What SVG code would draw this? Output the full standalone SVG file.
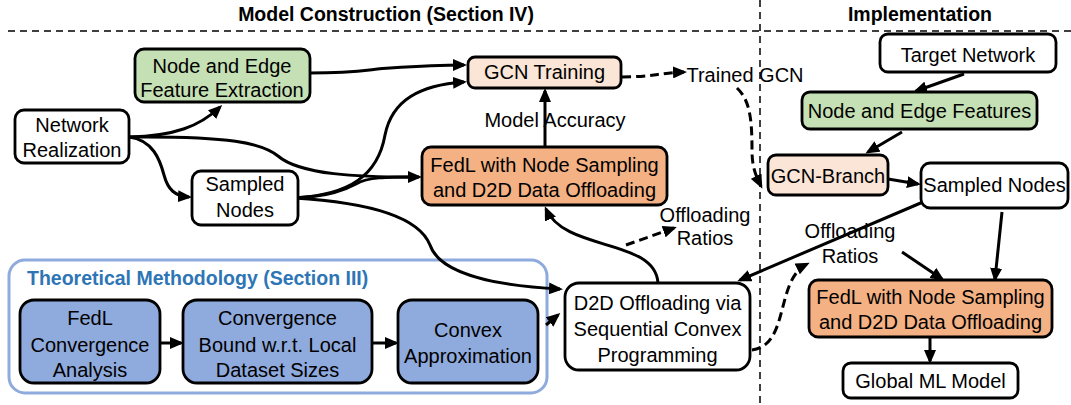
<svg xmlns="http://www.w3.org/2000/svg" width="1071" height="405" viewBox="0 0 1071 405">
  <style>
    text { font-family: "Liberation Sans", Arial, sans-serif; font-size: 20px; fill: #000; }
    .c { text-anchor: middle; }
    .hdr { font-weight: bold; font-size: 19.5px; }
    .theo { font-weight: bold; font-size: 19.5px; fill: #2e75b6; }
    .box { stroke: #000; stroke-width: 2.8; }
    .white { fill: #fff; }
    .green { fill: #c5e0b4; }
    .peach { fill: #fbe5d6; }
    .orange { fill: #f4b183; }
    .blue { fill: #8faadc; }
    .sep { stroke: #000; stroke-width: 1.5; stroke-dasharray: 7 5; fill: none; }
    .edge { stroke: #000; stroke-width: 3; fill: none; marker-end: url(#arrow); }
    .plain { stroke: #000; stroke-width: 3; fill: none; }
    .dash { stroke-dasharray: 9 5; }
  </style>
  <defs>
    <marker id="arrow" markerUnits="userSpaceOnUse" markerWidth="14" markerHeight="12" refX="11" refY="6" orient="auto">
      <path d="M0,0 L14,6 L0,12 z" fill="#000"/>
    </marker>
  </defs>

  <rect width="1071" height="405" fill="#fff"/>

  <!-- section headers and separators -->
  <g id="sections">
    <text class="hdr c" x="386" y="21">Model Construction (Section IV)</text>
    <text class="hdr c" x="920" y="21">Implementation</text>
    <line class="sep" x1="8" y1="31" x2="1071" y2="31"/>
    <line class="sep" x1="760" y1="0" x2="760" y2="405"/>
  </g>

  <!-- theoretical methodology frame -->
  <g id="theory-frame">
    <rect x="9" y="260" width="538" height="133" rx="16" fill="none" stroke="#8faadc" stroke-width="3"/>
    <text class="theo" x="27" y="285">Theoretical Methodology (Section III)</text>
  </g>

  <!-- connectors -->
  <g id="connectors">
    <path class="edge" d="M129,137 C175,136 200,126 220,107"/>
    <path class="plain" d="M129,137 C230,136 262,143 278,156 C300,175 360,177 412,177"/>
    <path class="edge" d="M129,137 C153,140 160,160 164,175 C168,190 175,196 189,197"/>
    <path class="edge" d="M310,73 C360,73 370,69 390,68 C420,66 440,65 464,65"/>
    <path class="edge" d="M294,198 C350,195 378,175 385,135 C392,100 420,85 464,82"/>
    <path class="edge" d="M294,198 C330,196 345,190 356,184 C368,177 385,177 419,177"/>
    <path class="edge" d="M294,198 C380,203 420,220 430,245 C440,275 500,286 560,289"/>
    <path class="edge" d="M545,147 L545,91"/>
    <path class="edge" d="M658,283 C655,238 565,252 546,209"/>
    <path class="edge dash" d="M622,77 C650,77 660,73 684,72"/>
    <path class="edge dash" d="M626,245 L674,228"/>
    <path class="edge dash" d="M737,88 C750,100 752,120 752,150 C752,168 756,176 761,186"/>
    <path class="edge dash" d="M752,350 C790,345 775,280 807,264"/>
    <path class="edge" d="M160,343 L181,343"/>
    <path class="edge" d="M372,343 L396,343"/>
    <path class="edge" d="M546,325 L558,315"/>
    <path class="edge" d="M964,74 L916,91"/>
    <path class="edge" d="M902,132 L868,152"/>
    <path class="edge" d="M888,179 L918,184"/>
    <path class="edge" d="M923,202 L740,280"/>
    <path class="edge" d="M1002,212 L995,279"/>
    <path class="edge" d="M902,252 L942,279"/>
    <path class="edge" d="M930,337 L930,361"/>
  </g>

  <!-- edge labels -->
  <g id="labels">
    <text class="c" x="555" y="127">Model Accuracy</text>
    <text class="c" x="745" y="82">Trained GCN</text>
    <text class="c" x="705" y="222">Offloading</text>
    <text class="c" x="705" y="245">Ratios</text>
    <text class="c" x="850" y="238">Offloading</text>
    <text class="c" x="850" y="263">Ratios</text>
  </g>

  <!-- model construction nodes -->
  <g id="network-realization">
    <rect class="box white" x="15" y="110" width="114" height="53" rx="9"/>
    <text class="c" x="72" y="132">Network</text>
    <text class="c" x="72" y="157">Realization</text>
  </g>
  <g id="feature-extraction">
    <rect class="box green" x="135" y="49" width="175" height="53" rx="9"/>
    <text class="c" x="222" y="73">Node and Edge</text>
    <text class="c" x="222" y="97">Feature Extraction</text>
  </g>
  <g id="sampled-nodes">
    <rect class="box white" x="192" y="171" width="106" height="54" rx="9"/>
    <text class="c" x="245" y="191">Sampled</text>
    <text class="c" x="245" y="217">Nodes</text>
  </g>
  <g id="gcn-training">
    <rect class="box peach" x="468" y="57" width="153" height="31" rx="7"/>
    <text class="c" x="544.5" y="79">GCN Training</text>
  </g>
  <g id="fedl-construction">
    <rect class="box orange" x="422" y="147" width="245" height="58" rx="9"/>
    <text class="c" x="544.5" y="172">FedL with Node Sampling</text>
    <text class="c" x="544.5" y="197">and D2D Data Offloading</text>
  </g>
  <g id="d2d-offloading">
    <rect class="box white" x="565" y="283" width="185" height="87" rx="14"/>
    <text class="c" x="657.5" y="310">D2D Offloading via</text>
    <text class="c" x="657.5" y="336">Sequential Convex</text>
    <text class="c" x="657.5" y="362">Programming</text>
  </g>

  <!-- theoretical methodology nodes -->
  <g id="convergence-analysis">
    <rect class="box blue" x="20" y="300" width="140" height="83" rx="14"/>
    <text class="c" x="90" y="325">FedL</text>
    <text class="c" x="90" y="352">Convergence</text>
    <text class="c" x="90" y="377">Analysis</text>
  </g>
  <g id="convergence-bound">
    <rect class="box blue" x="183" y="300" width="189" height="83" rx="14"/>
    <text class="c" x="277.5" y="325">Convergence</text>
    <text class="c" x="277.5" y="352">Bound w.r.t. Local</text>
    <text class="c" x="277.5" y="377">Dataset Sizes</text>
  </g>
  <g id="convex-approximation">
    <rect class="box blue" x="398" y="300" width="140" height="83" rx="14"/>
    <text class="c" x="468" y="337">Convex</text>
    <text class="c" x="468" y="363">Approximation</text>
  </g>

  <!-- implementation nodes -->
  <g id="target-network">
    <rect class="box white" x="880" y="34" width="176" height="38" rx="8"/>
    <text class="c" x="968" y="62">Target Network</text>
  </g>
  <g id="node-edge-features">
    <rect class="box green" x="802" y="92" width="235" height="37" rx="8"/>
    <text class="c" x="919.5" y="118">Node and Edge Features</text>
  </g>
  <g id="gcn-branch">
    <rect class="box peach" x="768" y="155" width="120" height="40" rx="8"/>
    <text class="c" x="828" y="183">GCN-Branch</text>
  </g>
  <g id="sampled-nodes-impl">
    <rect class="box white" x="921" y="163" width="147" height="45" rx="9"/>
    <text class="c" x="994.5" y="192">Sampled Nodes</text>
  </g>
  <g id="fedl-implementation">
    <rect class="box orange" x="809" y="280" width="243" height="57" rx="9"/>
    <text class="c" x="930.5" y="304">FedL with Node Sampling</text>
    <text class="c" x="930.5" y="329">and D2D Data Offloading</text>
  </g>
  <g id="global-model">
    <rect class="box white" x="843" y="363" width="175" height="35" rx="8"/>
    <text class="c" x="930.5" y="388">Global ML Model</text>
  </g>
</svg>
